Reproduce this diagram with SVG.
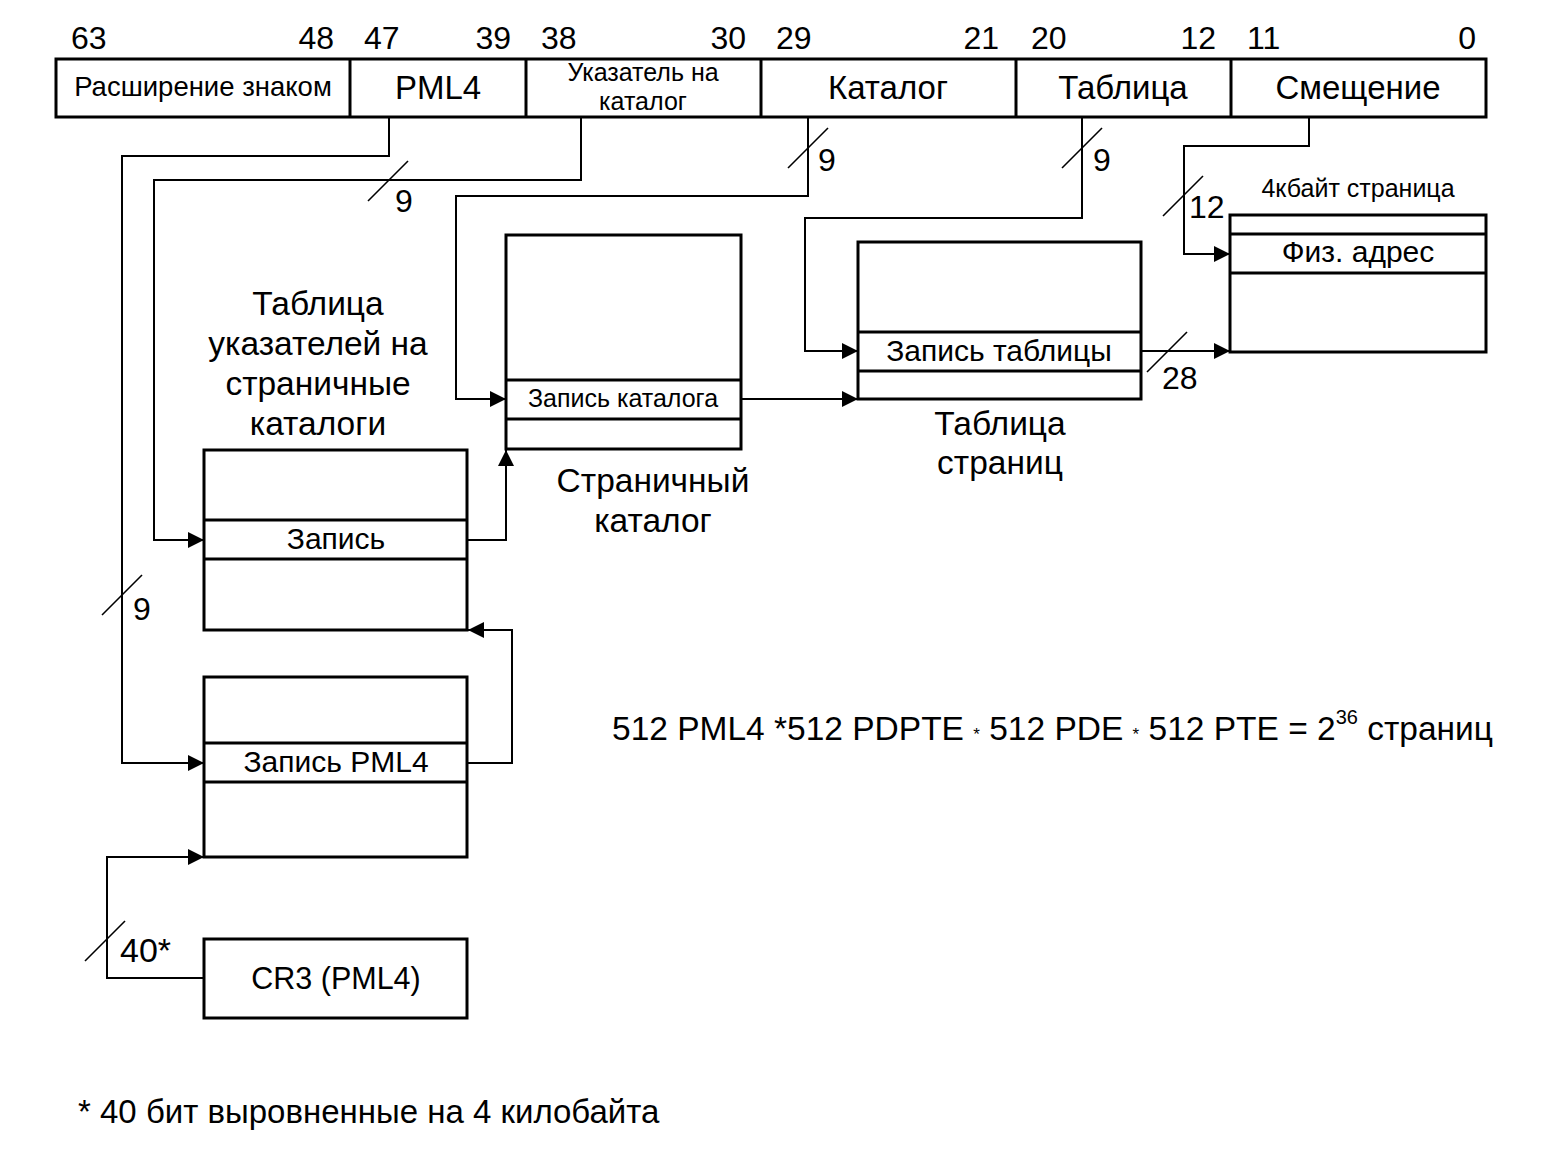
<svg xmlns="http://www.w3.org/2000/svg" width="1543" height="1149" viewBox="0 0 1543 1149">
<style>
text{font-family:"Liberation Sans",Arial,sans-serif;fill:#000}
.box{fill:#fff;stroke:#000;stroke-width:3}
.row{stroke:#000;stroke-width:3}
.wire{fill:none;stroke:#000;stroke-width:2}
.slash{stroke:#000;stroke-width:1.6}
.n{font-size:32px}
.m{text-anchor:middle}
.c{text-anchor:middle}
.cap{font-size:33.5px;text-anchor:middle}
.r{font-size:30px;text-anchor:middle}
</style>
<defs>
<marker id="ah" viewBox="0 0 10 10" refX="10" refY="5" markerWidth="16" markerHeight="16" markerUnits="userSpaceOnUse" orient="auto">
<path d="M0,0 L10,5 L0,10 Z" fill="#000"/>
</marker>
</defs>
<rect width="1543" height="1149" fill="#fff"/>

<g id="address">
<rect class="box" x="56" y="59" width="1430" height="58"/>
<line class="row" x1="350" y1="59" x2="350" y2="117"/>
<line class="row" x1="526" y1="59" x2="526" y2="117"/>
<line class="row" x1="761" y1="59" x2="761" y2="117"/>
<line class="row" x1="1016" y1="59" x2="1016" y2="117"/>
<line class="row" x1="1231" y1="59" x2="1231" y2="117"/>
<text x="203" y="96" class="c" font-size="27.5">Расширение знаком</text>
<text x="438" y="99" class="c" font-size="33">PML4</text>
<text x="643" y="81" class="c" font-size="25">Указатель на</text>
<text x="643" y="110" class="c" font-size="25">каталог</text>
<text x="888" y="99" class="c" font-size="33">Каталог</text>
<text x="1123" y="99" class="c" font-size="33">Таблица</text>
<text x="1358" y="99" class="c" font-size="33">Смещение</text>
<text x="71" y="49" class="n">63</text>
<text x="334" y="49" class="n" text-anchor="end">48</text>
<text x="364" y="49" class="n">47</text>
<text x="511" y="49" class="n" text-anchor="end">39</text>
<text x="541" y="49" class="n">38</text>
<text x="746" y="49" class="n" text-anchor="end">30</text>
<text x="776" y="49" class="n">29</text>
<text x="999" y="49" class="n" text-anchor="end">21</text>
<text x="1031" y="49" class="n">20</text>
<text x="1216" y="49" class="n" text-anchor="end">12</text>
<text x="1247" y="49" class="n">11</text>
<text x="1476" y="49" class="n" text-anchor="end">0</text>
</g>

<g id="pdpt">
<text x="318" y="315" class="cap">Таблица</text>
<text x="318" y="355" class="cap">указателей на</text>
<text x="318" y="395" class="cap">страничные</text>
<text x="318" y="435" class="cap">каталоги</text>
<rect class="box" x="204" y="450" width="263" height="180"/>
<line class="row" x1="204" y1="520" x2="467" y2="520"/>
<line class="row" x1="204" y1="559" x2="467" y2="559"/>
<text x="336" y="549" class="r">Запись</text>
</g>

<g id="pml4">
<rect class="box" x="204" y="677" width="263" height="180"/>
<line class="row" x1="204" y1="743" x2="467" y2="743"/>
<line class="row" x1="204" y1="782" x2="467" y2="782"/>
<text x="336" y="772" class="r">Запись PML4</text>
</g>

<g id="cr3">
<rect class="box" x="204" y="939" width="263" height="79"/>
<text x="336" y="989" class="m" font-size="30.5">CR3 (PML4)</text>
</g>

<g id="pd">
<rect class="box" x="506" y="235" width="235" height="214"/>
<line class="row" x1="506" y1="380" x2="741" y2="380"/>
<line class="row" x1="506" y1="419" x2="741" y2="419"/>
<text x="623" y="407" class="m" font-size="25">Запись каталога</text>
<text x="653" y="492" class="cap">Страничный</text>
<text x="653" y="532" class="cap">каталог</text>
</g>

<g id="pt">
<rect class="box" x="858" y="242" width="283" height="157"/>
<line class="row" x1="858" y1="332" x2="1141" y2="332"/>
<line class="row" x1="858" y1="371" x2="1141" y2="371"/>
<text x="999" y="361" class="r">Запись таблицы</text>
<text x="1000" y="435" class="cap">Таблица</text>
<text x="1000" y="474" class="cap">страниц</text>
</g>

<g id="page">
<text x="1358" y="197" class="m" font-size="25">4кбайт страница</text>
<rect class="box" x="1230" y="215" width="256" height="137"/>
<line class="row" x1="1230" y1="234" x2="1486" y2="234"/>
<line class="row" x1="1230" y1="273" x2="1486" y2="273"/>
<text x="1358" y="262" class="r">Физ. адрес</text>
</g>

<g id="connectors">
<polyline class="wire" points="389,117 389,156 122,156 122,763 204,763" marker-end="url(#ah)"/>
<polyline class="wire" points="581,117 581,180 154,180 154,540 204,540" marker-end="url(#ah)"/>
<polyline class="wire" points="808,117 808,196 456,196 456,399 506,399" marker-end="url(#ah)"/>
<polyline class="wire" points="1082,117 1082,218 805,218 805,351 858,351" marker-end="url(#ah)"/>
<polyline class="wire" points="1309,117 1309,146 1184,146 1184,254 1230,254" marker-end="url(#ah)"/>
<polyline class="wire" points="741,399 858,399" marker-end="url(#ah)"/>
<polyline class="wire" points="1141,351 1230,351" marker-end="url(#ah)"/>
<polyline class="wire" points="467,540 506,540 506,450" marker-end="url(#ah)"/>
<polyline class="wire" points="467,763 512,763 512,630 468,630" marker-end="url(#ah)"/>
<polyline class="wire" points="204,978 107,978 107,857 204,857" marker-end="url(#ah)"/>
<line class="slash" x1="368" y1="201" x2="408" y2="161"/>
<line class="slash" x1="788" y1="168" x2="828" y2="128"/>
<line class="slash" x1="1062" y1="168" x2="1102" y2="128"/>
<line class="slash" x1="1163" y1="216" x2="1203" y2="176"/>
<line class="slash" x1="1147" y1="372" x2="1187" y2="332"/>
<line class="slash" x1="102" y1="615" x2="142" y2="575"/>
<line class="slash" x1="85" y1="961" x2="125" y2="921"/>
<text x="395" y="212" class="n">9</text>
<text x="818" y="171" class="n">9</text>
<text x="1093" y="171" class="n">9</text>
<text x="1189" y="218" class="n">12</text>
<text x="1162" y="389" class="n">28</text>
<text x="133" y="620" class="n">9</text>
<text x="120" y="962" font-size="34">40*</text>
</g>

<g id="notes">
<text x="612" y="740" font-size="33.5">512 PML4 *512 PDPTE <tspan font-size="17">*</tspan> 512 PDE <tspan font-size="17">*</tspan> 512 PTE = 2<tspan font-size="20" dy="-16">36</tspan><tspan dy="16"> страниц</tspan></text>
<text x="78" y="1123" font-size="33">* 40 бит выровненные на 4 килобайта</text>
</g>
</svg>
